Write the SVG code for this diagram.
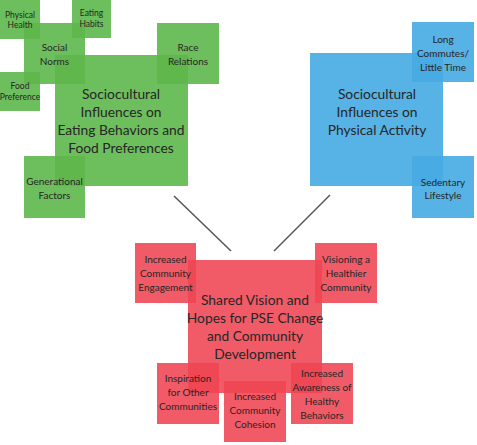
<svg xmlns="http://www.w3.org/2000/svg" width="477" height="445" viewBox="0 0 477 445">
<style>
.g{fill:rgb(94,184,76);fill-opacity:0.91}
.b{fill:rgb(70,170,226);fill-opacity:0.91}
.r{fill:rgb(238,68,82);fill-opacity:0.88}
text{font-family:Lato,"Liberation Sans",sans-serif;fill:#262626;text-anchor:middle}
.big{font-size:13.8px}
.sm{font-size:10px}
.xs{font-size:8.5px}
.conn{stroke:#555;stroke-width:1.5;fill:none}
</style>
<rect width="477" height="445" fill="#fff"/>
<g id="connectors">
<line class="conn" x1="174" y1="196" x2="231" y2="251"/>
<line class="conn" x1="330" y1="195" x2="274" y2="251"/>
</g>
<g id="eating">
<rect class="g" x="55" y="55" width="133" height="131"/>
<text class="big" x="121" y="99">Sociocultural</text>
<text class="big" x="121" y="117">Influences on</text>
<text class="big" x="121" y="135">Eating Behaviors and</text>
<text class="big" x="121" y="153">Food Preferences</text>
</g>
<g id="social-norms">
<rect class="g" x="24" y="23" width="61" height="61"/>
<text class="sm" x="54.5" y="51">Social</text>
<text class="sm" x="54.5" y="65">Norms</text>
</g>
<g id="physical-health">
<rect class="g" x="0" y="0" width="40" height="39"/>
<text class="xs" x="20" y="18">Physical</text>
<text class="xs" x="20" y="28">Health</text>
</g>
<g id="eating-habits">
<rect class="g" x="72" y="0" width="39" height="38"/>
<text class="xs" x="91.5" y="16">Eating</text>
<text class="xs" x="91.5" y="27">Habits</text>
</g>
<g id="food-preference">
<rect class="g" x="0" y="72" width="40" height="39"/>
<text class="xs" x="20" y="89">Food</text>
<text class="xs" x="20" y="100">Preference</text>
</g>
<g id="race-relations">
<rect class="g" x="157" y="23" width="62" height="61"/>
<text class="sm" x="188" y="51">Race</text>
<text class="sm" x="188" y="65">Relations</text>
</g>
<g id="generational">
<rect class="g" x="24" y="156" width="61" height="62"/>
<text class="sm" x="54.5" y="185">Generational</text>
<text class="sm" x="54.5" y="199">Factors</text>
</g>
<g id="physical-activity">
<rect class="b" x="310" y="53" width="133" height="133"/>
<text class="big" x="377" y="99">Sociocultural</text>
<text class="big" x="377" y="117">Influences on</text>
<text class="big" x="377" y="135">Physical Activity</text>
</g>
<g id="long-commutes">
<rect class="b" x="412" y="22" width="62" height="60"/>
<text class="sm" x="443" y="43">Long</text>
<text class="sm" x="443" y="57">Commutes/</text>
<text class="sm" x="443" y="71">Little Time</text>
</g>
<g id="sedentary">
<rect class="b" x="412" y="156" width="62" height="62"/>
<text class="sm" x="443" y="186">Sedentary</text>
<text class="sm" x="443" y="199">Lifestyle</text>
</g>
<g id="shared-vision">
<rect class="r" x="188" y="260" width="134" height="133"/>
<text class="big" x="255" y="305">Shared Vision and</text>
<text class="big" x="255" y="323">Hopes for PSE Change</text>
<text class="big" x="255" y="341">and Community</text>
<text class="big" x="255" y="359">Development</text>
</g>
<g id="engagement">
<rect class="r" x="135" y="243" width="61" height="60"/>
<text class="sm" x="165.5" y="263">Increased</text>
<text class="sm" x="165.5" y="277">Community</text>
<text class="sm" x="165.5" y="291">Engagement</text>
</g>
<g id="visioning">
<rect class="r" x="315" y="243" width="62" height="60"/>
<text class="sm" x="346" y="263">Visioning a</text>
<text class="sm" x="346" y="277">Healthier</text>
<text class="sm" x="346" y="291">Community</text>
</g>
<g id="inspiration">
<rect class="r" x="157" y="363" width="62" height="61"/>
<text class="sm" x="188" y="382">Inspiration</text>
<text class="sm" x="188" y="396">for Other</text>
<text class="sm" x="188" y="410">Communities</text>
</g>
<g id="cohesion">
<rect class="r" x="224" y="381" width="62" height="61"/>
<text class="sm" x="255" y="400">Increased</text>
<text class="sm" x="255" y="414">Community</text>
<text class="sm" x="255" y="428">Cohesion</text>
</g>
<g id="awareness">
<rect class="r" x="291" y="363" width="62" height="61"/>
<text class="sm" x="322" y="377">Increased</text>
<text class="sm" x="322" y="391">Awareness of</text>
<text class="sm" x="322" y="405">Healthy</text>
<text class="sm" x="322" y="419">Behaviors</text>
</g>
</svg>
